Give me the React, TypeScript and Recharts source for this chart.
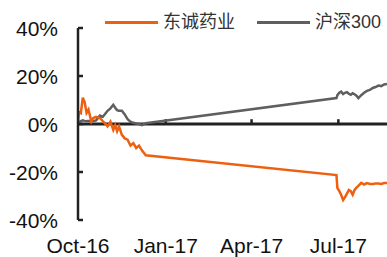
import { LineChart, Line, XAxis, YAxis, ReferenceLine } from "recharts";

// day-by-day readings, cumulative return in %
const dates = [
  "2016-10-01", "2016-10-02", "2016-10-04", "2016-10-06", "2016-10-08", "2016-10-10",
  "2016-10-12", "2016-10-15", "2016-10-17", "2016-10-20", "2016-10-24", "2016-10-27",
  "2016-10-30", "2016-11-01", "2016-11-04", "2016-11-07", "2016-11-09", "2016-11-11",
  "2016-11-13", "2016-11-16", "2016-11-19", "2016-11-22", "2016-11-25", "2016-11-28",
  "2016-12-01", "2016-12-04", "2016-12-07", "2016-12-11",
  "2017-06-29", "2017-06-30", "2017-07-02", "2017-07-04", "2017-07-06", "2017-07-08",
  "2017-07-10", "2017-07-12", "2017-07-14", "2017-07-16", "2017-07-18", "2017-07-20",
  "2017-07-22", "2017-07-25", "2017-07-28", "2017-07-31", "2017-08-03", "2017-08-06",
  "2017-08-09", "2017-08-12", "2017-08-15", "2017-08-18", "2017-08-21",
];

const dongcheng = [
  0.5, 5, 4.5, 11, 9, 4.6,
  6, 1, 2.5, 3, 2.5, 1.2,
  0, -1, 1, -2.5, -0.5, -3,
  -1, -4.5, -6, -6.5, -9, -8,
  -10, -9, -11, -13,
  -21.3, -26.7, -28, -29.6, -31.7, -30.5,
  -29, -27.5, -28, -29.5, -27.5, -26.5,
  -25.8, -24.5, -25.2, -24.6, -25, -25,
  -24.8, -24.8, -25, -24.6, -24.6,
];

const hs300 = [
  0.4, 0.8, 1.2, 1.5, 1.3, 1.2,
  1.2, 1.2, 1.2, 1.5, 3.5, 3,
  4.5, 5.5, 6.5, 8, 6.8, 5.8,
  5.5, 5.5, 4, 2, 1, 0.5,
  0.2, 0, -0.5, 0.3,
  10.8, 12, 13, 13.5, 12.5, 13,
  13.3, 12.6, 12.2, 12.8, 12.4, 11.8,
  10.8, 12, 13, 13.8, 14.2, 15,
  15.4, 16, 15.8, 16.5, 16.7,
];

const seriesNames = ["东诚药业", "沪深300"];
const tickDates = ["2016-10-01", "2017-01-01", "2017-04-01", "2017-07-01"];
const yTicks = [-40, -20, 0, 20, 40];
const months = ["Jan", "Feb", "Mar", "Apr", "May", "Jun", "Jul", "Aug", "Sep", "Oct", "Nov", "Dec"];

const ORANGE = "#EE6010";
const GREY = "#5f5f5f";
const AXIS = "#222222";
const FONT = "'Liberation Sans', Arial, 'Noto Sans CJK SC', sans-serif";

const rows = dates.map((d, i) => ({ t: Date.parse(d), a: dongcheng[i], b: hs300[i] }));
const xTicks = tickDates.map(d => Date.parse(d));

const fmtDate = (t: number) => {
  const d = new Date(t);
  return `${months[d.getUTCMonth()]}-${String(d.getUTCFullYear()).slice(2)}`;
};

const YTick = (props: any) => {
  const { x, y, payload } = props;
  return (
    <g>
      <line x1={x} y1={y} x2={x + 5} y2={y} stroke={AXIS} strokeWidth={2.5} />
      <text x={x - 20} y={y} dy="0.36em" textAnchor="end" fill="#111" fontSize={21} fontFamily={FONT}>
        {payload.value}%
      </text>
    </g>
  );
};

function ChartLegend() {
  const items = [
    { name: seriesNames[0], color: ORANGE },
    { name: seriesNames[1], color: GREY },
  ];
  return (
    <div style={{ position: "absolute", top: 10, left: 105, display: "flex", alignItems: "center", fontSize: 18, lineHeight: "24px", color: "#333", fontFamily: FONT }}>
      {items.map((it, i) => (
        <div key={it.name} style={{ display: "flex", alignItems: "center", marginRight: i === 0 ? 22 : 0 }}>
          <span style={{ display: "inline-block", width: 53, height: 3, background: it.color, marginRight: 5 }} />
          <span>{it.name}</span>
        </div>
      ))}
    </div>
  );
}

export default function App() {
  return (
    <div style={{ position: "absolute", left: 0, top: 0, width: 387, height: 257, background: "#fff", overflow: "hidden" }}>
      <LineChart width={387} height={257} data={rows} margin={{ top: 28, right: 0, bottom: 0, left: 0 }}>
        <XAxis
          dataKey="t"
          type="number"
          domain={[Date.parse("2016-10-01"), Date.parse("2017-08-21")]}
          ticks={xTicks}
          tickFormatter={fmtDate}
          axisLine={false}
          tickLine={false}
          tickSize={0}
          tickMargin={18}
          height={37}
          allowDataOverflow
          tick={{ fill: "#111", fontSize: 21, fontFamily: FONT }}
        />
        <YAxis
          domain={[-40, 40]}
          ticks={yTicks}
          width={78}
          axisLine={{ stroke: AXIS, strokeWidth: 2.5 }}
          tickLine={false}
          tickSize={0}
          tickMargin={0}
          tick={<YTick />}
        />
        <ReferenceLine y={0} stroke={AXIS} strokeWidth={3} />
        {xTicks.slice(1).map(t => (
          <ReferenceLine key={t} segment={[{ x: t, y: 0 }, { x: t, y: 2 }]} stroke={AXIS} strokeWidth={2.5} />
        ))}
        <Line type="linear" dataKey="b" name={seriesNames[1]} stroke={GREY} strokeWidth={2.5} dot={false} isAnimationActive={false} />
        <Line type="linear" dataKey="a" name={seriesNames[0]} stroke={ORANGE} strokeWidth={2.5} dot={false} isAnimationActive={false} />
      </LineChart>
      <ChartLegend />
    </div>
  );
}
